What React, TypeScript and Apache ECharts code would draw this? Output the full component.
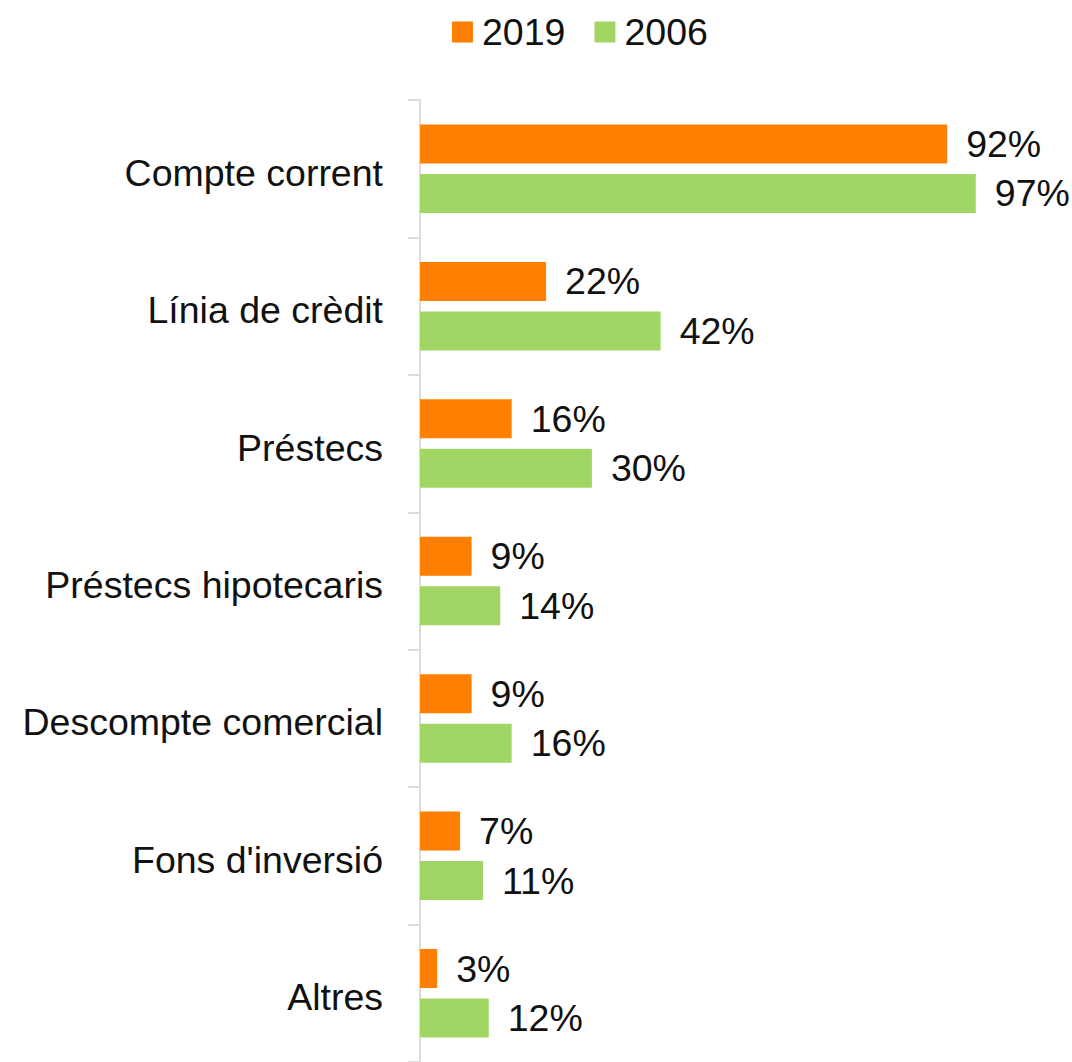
import React, { useEffect, useRef } from "react";
import * as echarts from "echarts";

const categories = [
  "Compte corrent",
  "Línia de crèdit",
  "Préstecs",
  "Préstecs hipotecaris",
  "Descompte comercial",
  "Fons d'inversió",
  "Altres",
];
const values2019 = [92, 22, 16, 9, 9, 7, 3];
const values2006 = [97, 42, 30, 14, 16, 11, 12];
const seriesNames = ["2019", "2006"];

const FONT = "'Liberation Sans', Arial, Helvetica, sans-serif";

export default function App() {
  const ref = useRef<HTMLDivElement>(null);
  useEffect(() => {
    if (!ref.current) return;
    const chart = echarts.init(ref.current, undefined, { renderer: "svg" });
    const labelStyle = {
      show: true,
      position: "right" as const,
      distance: 19,
      formatter: "{c}%",
      color: "#111",
      fontSize: 37.5,
      fontFamily: FONT,
    };
    chart.setOption({
      animation: false,
      textStyle: { fontFamily: FONT },
      legend: {
        left: 452,
        top: 13,
        padding: 0,
        itemWidth: 21,
        itemHeight: 21,
        itemGap: 29,
        icon: "rect",
        textStyle: { fontSize: 37.5, color: "#111", fontFamily: FONT, padding: [0, 0, 0, 4] },
        data: seriesNames,
      },
      grid: { left: 420, top: 100, width: 573, height: 971, containLabel: false },
      xAxis: {
        type: "value",
        min: 0,
        max: 100,
        show: false,
      },
      yAxis: {
        type: "category",
        data: categories,
        inverse: true,
        axisLine: { show: true, lineStyle: { color: "#dcdcdc", width: 2 } },
        axisTick: { show: true, length: 12, lineStyle: { color: "#dcdcdc", width: 2 } },
        axisLabel: {
          margin: 37,
          fontSize: 37.5,
          color: "#111",
          fontFamily: FONT,
          formatter: "{a|{value}}",
          rich: {
            a: {
              fontSize: 37.5,
              color: "#111",
              fontFamily: FONT,
              padding: [8, 0, 0, 0],
            },
          },
        },
        splitLine: { show: false },
      },
      series: [
        {
          name: seriesNames[0],
          type: "bar",
          data: values2019,
          barWidth: 39,
          barGap: "27%",
          itemStyle: { color: "#ff7f00" },
          label: labelStyle,
        },
        {
          name: seriesNames[1],
          type: "bar",
          data: values2006,
          barWidth: 39,
          barGap: "27%",
          itemStyle: { color: "#a2d664" },
          label: labelStyle,
        },
      ],
    });
    return () => chart.dispose();
  }, []);
  return (
    <div
      ref={ref}
      style={{ position: "absolute", left: 0, top: 0, width: 1072, height: 1062 }}
    />
  );
}
